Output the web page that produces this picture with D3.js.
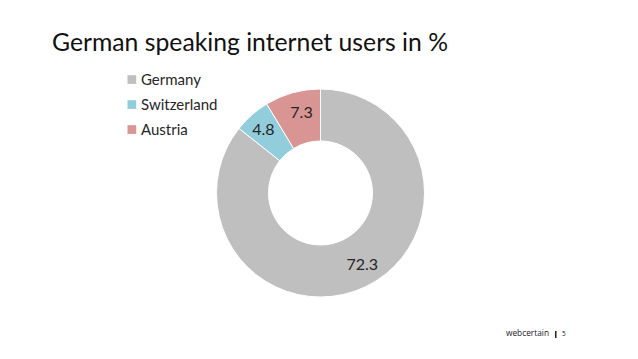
<!DOCTYPE html>
<html><head><meta charset="utf-8">
<script src="https://cdn.jsdelivr.net/npm/d3@7"></script>
<style>body{margin:0;background:#fff}svg{display:block}</style>
</head><body>
<svg id="c" width="638" height="359"></svg>
<script>
const categories = ["Germany", "Switzerland", "Austria"];
const values = [72.3, 4.8, 7.3];
const colors = ["#BFBFBF", "#92CDDC", "#D99594"];
const title = "German speaking internet users in %";

const svg = d3.select("#c");
const font = "Lato, 'Open Sans', sans-serif";

svg.append("text").attr("x", 52).attr("y", 51)
  .attr("font-family", font).attr("font-size", 24.7).attr("fill", "#111")
  .attr("textLength", 396).attr("lengthAdjust", "spacingAndGlyphs")
  .text(title);

const data = categories.map((c, i) => ({cat: c, value: values[i], color: colors[i]}));
const pie = d3.pie().sort(null).value(d => d.value);
const arc = d3.arc().innerRadius(52).outerRadius(104);
const labelArc = d3.arc().innerRadius(56).outerRadius(108);
const g = svg.append("g").attr("transform", "translate(320.5,193)");
const arcs = pie(data);
g.selectAll("path").data(arcs).join("path")
  .attr("d", arc).attr("fill", d => d.data.color)
  .attr("stroke", "#fff").attr("stroke-width", 1);
// small horizontal nudges mimicking the original label placement
const nudge = [6, -3, 3];
g.selectAll("text").data(arcs).join("text")
  .attr("transform", (d, i) => { const c = labelArc.centroid(d); return `translate(${c[0] + nudge[i]},${c[1] - 2})`; })
  .attr("text-anchor", "middle").attr("dy", "0.35em")
  .attr("font-family", font).attr("font-size", 16).attr("fill", "#262626")
  .text(d => d.data.value);

const leg = svg.append("g").attr("transform", "translate(127.5,79.5)");
const items = leg.selectAll("g").data(data).join("g")
  .attr("transform", (d, i) => `translate(0,${i * 25})`);
items.append("rect").attr("x", 0).attr("y", -4.3).attr("width", 8.7).attr("height", 8.7)
  .attr("fill", d => d.color);
items.append("text").attr("x", 13.5).attr("dy", "0.35em")
  .attr("font-family", font).attr("font-size", 15).attr("fill", "#262626")
  .text(d => d.cat);

const ft = svg.append("g").attr("transform", "translate(506,336)");
ft.append("text").attr("x", 0).attr("y", 0)
  .attr("font-family", "'Open Sans', sans-serif").attr("font-size", 8.5).attr("fill", "#222")
  .attr("textLength", 43).attr("lengthAdjust", "spacingAndGlyphs")
  .text("webcertain");
ft.append("rect").attr("x", 49).attr("y", -5).attr("width", 1.5).attr("height", 7).attr("fill", "#222");
ft.append("text").attr("x", 56).attr("y", 0)
  .attr("font-family", "'Open Sans', sans-serif").attr("font-size", 6.5).attr("fill", "#222")
  .text("5");
</script>
</body></html>
